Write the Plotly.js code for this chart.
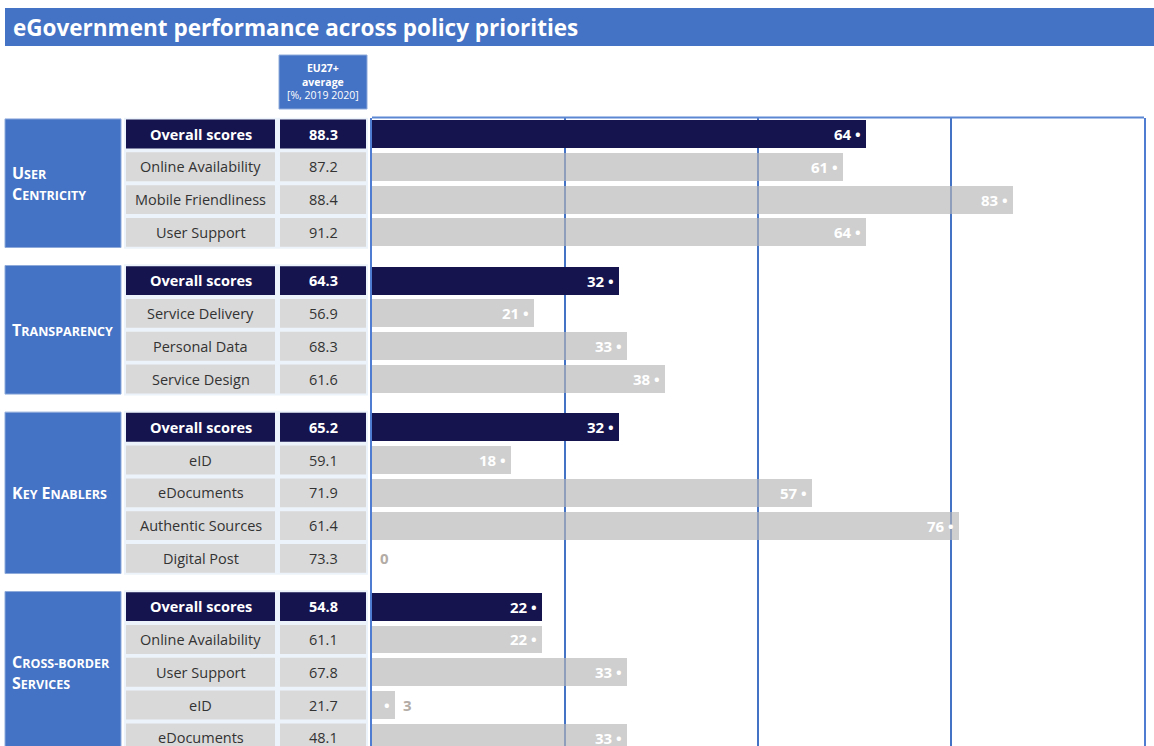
<!DOCTYPE html>
<html>
<head>
<meta charset="utf-8">
<script src="https://cdn.plot.ly/plotly-3.0.1.min.js"></script>
<style>html,body{margin:0;padding:0;background:#fff;}#chart{width:1154px;height:746px;}</style>
</head>
<body>
<div id="chart"></div>
<script>
// ---------------- DATA ----------------
const chartTitle = "eGovernment performance across policy priorities";
const headerLines = ["EU27+", "average", "[%, 2019 2020]"];
const groupNames = ["User|Centricity", "Transparency", "Key Enablers", "Cross-border|Services"];
const groupIndicators = [
  ["Overall scores", "Online Availability", "Mobile Friendliness", "User Support"],
  ["Overall scores", "Service Delivery", "Personal Data", "Service Design"],
  ["Overall scores", "eID", "eDocuments", "Authentic Sources", "Digital Post"],
  ["Overall scores", "Online Availability", "User Support", "eID", "eDocuments"]
];
const euAverage = [
  [88.3, 87.2, 88.4, 91.2],
  [64.3, 56.9, 68.3, 61.6],
  [65.2, 59.1, 71.9, 61.4, 73.3],
  [54.8, 61.1, 67.8, 21.7, 48.1]
];
const countryScore = [
  [64, 61, 83, 64],
  [32, 21, 33, 38],
  [32, 18, 57, 76, 0],
  [22, 22, 33, 3, 33]
];
const xTicks = [0, 25, 50, 75, 100];

// ---------------- STYLE / LAYOUT HELPERS ----------------
const W = 1154, H = 746;
const BLUE = "#4472c4", NAVY = "#15144f", CELL = "#d9d9d9";
const GRAY_BAR = "rgba(182,182,182,0.66)";
const FONT = "Open Sans, Noto Sans, sans-serif";
const GAP = 0.47;          // extra space between groups (row units)
const px = v => v / W;     // x pixel -> paper
const py = v => 1 - v / H; // y pixel -> paper

// row positions built from group structure
const ys = [], xs = [], barColors = [];
let k = 0;
const groupSpans = [];
groupIndicators.forEach((inds, g) => {
  const start = k + g * GAP;
  inds.forEach((name, i) => {
    ys.push(k + g * GAP);
    xs.push(countryScore[g][i]);
    barColors.push(i === 0 ? NAVY : GRAY_BAR);
    k++;
  });
  groupSpans.push([start, k - 1 + g * GAP]);
});

function smallCaps(word) {
  return word.split(" ").map(w =>
    w.charAt(0).toUpperCase() +
    '<span style="font-size:12.5px">' + w.slice(1).toUpperCase() + '</span>'
  ).join(" ");
}

const shapes = [], annotations = [];

// title bar
shapes.push({type: "rect", xref: "paper", yref: "paper", x0: px(5), x1: px(1154), y0: py(46), y1: py(8),
  fillcolor: BLUE, line: {width: 0}, layer: "below"});
annotations.push({xref: "paper", yref: "paper", x: px(11), y: py(27), xanchor: "left", yanchor: "middle",
  text: "<b>" + chartTitle + "</b>", showarrow: false, font: {family: FONT, size: 22.5, color: "#fff"}});

// header box
shapes.push({type: "rect", xref: "paper", yref: "paper", x0: px(279), x1: px(367), y0: py(109), y1: py(55),
  fillcolor: BLUE, line: {width: 1, color: "#8eaadb"}});
annotations.push({xref: "paper", yref: "paper", x: px(323), y: py(82), xanchor: "center", yanchor: "middle",
  text: "<b>" + headerLines[0] + "</b><br><b>" + headerLines[1] + "</b><br>" + headerLines[2],
  showarrow: false, font: {family: FONT, size: 10.5, color: "#fff"}, align: "center"});

// table
const HALF = 0.44;
let r = 0;
groupIndicators.forEach((inds, g) => {
  const [s, e] = groupSpans[g];
  shapes.push({type: "rect", xref: "paper", yref: "y", x0: px(5), x1: px(121), y0: s - 0.46, y1: e + 0.46,
    fillcolor: BLUE, line: {width: 1, color: "#8eaadb"}});
  shapes.push({type: "rect", xref: "paper", yref: "y", x0: px(124), x1: px(368), y0: s - 0.5, y1: e + 0.5,
    fillcolor: "#edf3fa", line: {width: 0}});
  const lines = groupNames[g].split("|").map(smallCaps).join("<br>");
  annotations.push({xref: "paper", yref: "y", x: px(10), y: (s + e) / 2, xanchor: "left", yanchor: "middle",
    text: "<b>" + lines + "</b>", align: "left", showarrow: false,
    font: {family: FONT, size: 16, color: "#fff"}});
  inds.forEach((name, i) => {
    const y = ys[r];
    const ov = i === 0;
    const fill = ov ? NAVY : CELL;
    shapes.push({type: "rect", xref: "paper", yref: "y", x0: px(126), x1: px(275), y0: y - HALF, y1: y + HALF,
      fillcolor: fill, line: {width: 0}});
    shapes.push({type: "rect", xref: "paper", yref: "y", x0: px(280), x1: px(366), y0: y - HALF, y1: y + HALF,
      fillcolor: fill, line: {width: 0}});
    const col = ov ? "#fff" : "#333";
    annotations.push({xref: "paper", yref: "y", x: px(200.5), y: y, xanchor: "center", yanchor: "middle",
      text: ov ? "<b>" + name + "</b>" : name, showarrow: false, font: {family: FONT, size: 14.5, color: col}});
    annotations.push({xref: "paper", yref: "y", x: px(323), y: y, xanchor: "center", yanchor: "middle",
      text: ov ? "<b>" + euAverage[g][i].toFixed(1) + "</b>" : euAverage[g][i].toFixed(1),
      showarrow: false, font: {family: FONT, size: 14.5, color: col}});
    r++;
  });
});

// bar value labels
xs.forEach((v, i) => {
  if (v >= 10) {
    annotations.push({xref: "x", yref: "y", x: v, y: ys[i], xanchor: "right", yanchor: "middle", xshift: -3,
      text: "<b>" + v + " •</b>", showarrow: false, font: {family: FONT, size: 15, color: "#fff"}});
  } else {
    if (v > 0) {
      annotations.push({xref: "x", yref: "y", x: v, y: ys[i], xanchor: "right", yanchor: "middle", xshift: -3,
        text: "<b>•</b>", showarrow: false, font: {family: FONT, size: 15, color: "#fff"}});
    }
    annotations.push({xref: "x", yref: "y", x: v, y: ys[i], xanchor: "left", yanchor: "middle", xshift: 6,
      text: "<b>" + v + "</b>", showarrow: false, font: {family: FONT, size: 15, color: "#b3aca6"}});
  }
});

// top frame line
shapes.push({type: "line", xref: "x", yref: "paper", x0: 0, x1: 100, y0: py(117.6), y1: py(117.6),
  line: {color: "#5b86d2", width: 2}});

const yTop = -0.5;
const pitch = 32.8;
const yBottom = yTop + (H - 117.6) / pitch;

const trace = {
  type: "bar", orientation: "h", x: xs, y: ys, width: 0.85,
  marker: {color: barColors, line: {width: 0}},
  hoverinfo: "x", showlegend: false
};

const layout = {
  width: W, height: H,
  margin: {l: 0, r: 0, t: 0, b: 0},
  paper_bgcolor: "#fff", plot_bgcolor: "#fff",
  xaxis: {domain: [px(372), px(1144)], range: [0, 100], tickvals: xTicks, showticklabels: false,
    showgrid: true, gridcolor: BLUE, gridwidth: 2, zeroline: false, showline: false, fixedrange: true},
  yaxis: {domain: [0, py(117.6)], range: [yBottom, yTop], showticklabels: false, showgrid: false,
    zeroline: false, showline: true, mirror: true, linecolor: "#4f7cd0", linewidth: 2, ticks: "", fixedrange: true},
  shapes: shapes, annotations: annotations, bargap: 0
};

Plotly.newPlot("chart", [trace], layout, {displayModeBar: false, staticPlot: true});
</script>
</body>
</html>
